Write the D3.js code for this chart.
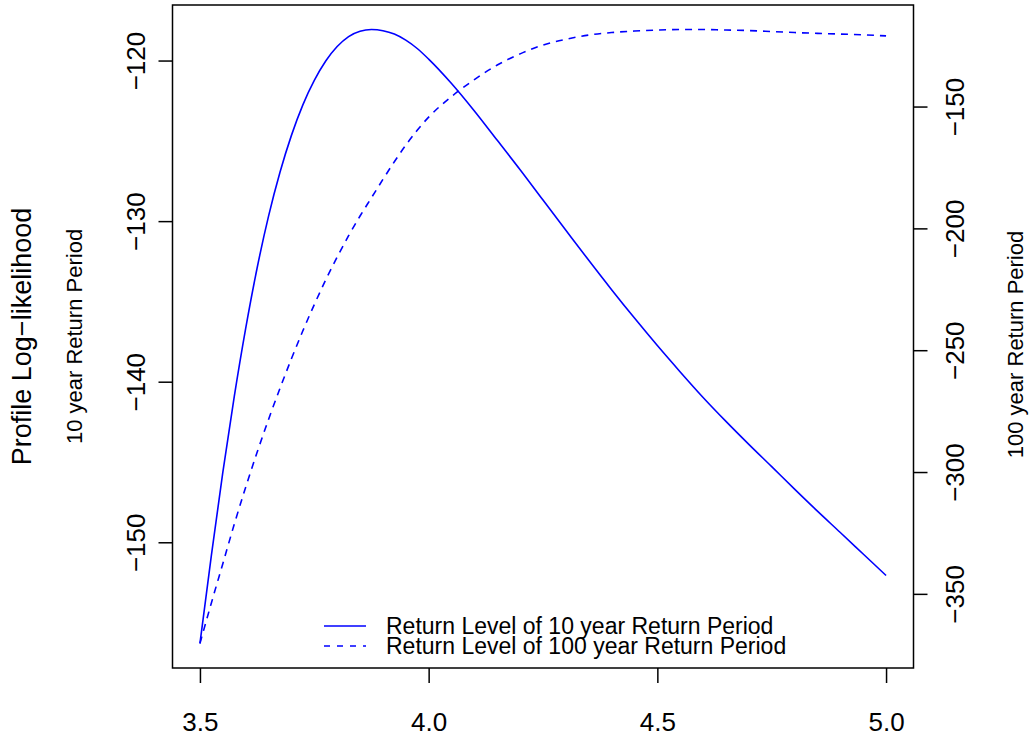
<!DOCTYPE html>
<html>
<head>
<meta charset="utf-8">
<script src="https://cdn.jsdelivr.net/npm/d3@7"></script>
<style>
  body { margin: 0; background: #fff; }
  text { font-family: "Liberation Sans", Arial, Helvetica, sans-serif; fill: #000; }
</style>
</head>
<body>
<svg id="chart" width="1029" height="738"></svg>
<script>
// Shape parameter grid of the profile
const xVals = [3.5, 3.525, 3.55, 3.575, 3.6, 3.625, 3.65, 3.675, 3.7, 3.725, 3.75,
               3.775, 3.8, 3.825, 3.85, 3.875, 3.9, 3.925, 3.95, 3.975, 4.0,
               4.05, 4.1, 4.15, 4.2, 4.25, 4.3, 4.35, 4.4, 4.45, 4.5,
               4.55, 4.6, 4.65, 4.7, 4.75, 4.8, 4.85, 4.9, 4.95, 5.0];

// Profile log-likelihood, 10 year return level (left axis)
const rl10 = [-156.30, -150.81, -145.65, -140.93, -136.68, -132.92, -129.69, -126.96, -124.66, -122.76, -121.24,
              -120.03, -119.13, -118.51, -118.17, -118.07, -118.14, -118.35, -118.73, -119.25, -119.91,
              -121.43, -123.14, -124.97, -126.80, -128.69, -130.57, -132.44, -134.27, -136.04, -137.75,
              -139.39, -140.98, -142.47, -143.90, -145.29, -146.69, -148.06, -149.39, -150.73, -152.07];

// Profile log-likelihood, 100 year return level (right axis)
const rl100 = [-370.35, -353.73, -337.61, -321.44, -306.22, -291.90, -278.40, -265.63, -253.53, -242.04, -231.25,
               -221.15, -211.76, -203.02, -194.93, -187.42, -179.91, -172.65, -165.84, -159.73, -154.35,
               -145.90, -138.92, -132.97, -128.38, -124.76, -122.38, -120.66, -119.63, -119.02, -118.61,
               -118.40, -118.40, -118.61, -118.81, -119.22, -119.63, -119.96, -120.25, -120.58, -120.99];

const xTicks = [3.5, 4.0, 4.5, 5.0];
const leftTicks = [-150, -140, -130, -120];
const rightTicks = [-350, -300, -250, -200, -150];

const legendLabels = ["Return Level of 10 year Return Period",
                      "Return Level of 100 year Return Period"];

const box = { left: 172.5, right: 913.5, top: 5, bottom: 668 };
const blue = "#0000ff";
const minus = s => String(s).replace("-", "\u2212");

// extent widened by 4% on each side
function padded(vals) {
  const [a, b] = d3.extent(vals);
  const p = (b - a) * 0.04;
  return [a - p, b + p];
}

const x = d3.scaleLinear().domain(padded(xVals)).range([box.left, box.right]);
const yL = d3.scaleLinear().domain(padded(rl10)).range([box.bottom, box.top]);
const yR = d3.scaleLinear().domain(padded(rl100)).range([box.bottom, box.top]);

const svg = d3.select("#chart");

// curves
const line10 = d3.line().x((d, i) => x(xVals[i])).y(d => yL(d)).curve(d3.curveMonotoneX);
const line100 = d3.line().x((d, i) => x(xVals[i])).y(d => yR(d)).curve(d3.curveMonotoneX);

svg.append("path").datum(rl10).attr("d", line10)
  .attr("fill", "none").attr("stroke", blue).attr("stroke-width", 1.6);
svg.append("path").datum(rl100).attr("d", line100)
  .attr("fill", "none").attr("stroke", blue).attr("stroke-width", 1.6)
  .attr("stroke-dasharray", "7,6");

// bottom axis
const gx = svg.append("g").attr("transform", `translate(0,${box.bottom})`)
  .call(d3.axisBottom(x).tickValues(xTicks).tickSize(15).tickFormat(d3.format(".1f")));
gx.select(".domain").remove();
gx.selectAll(".tick line").attr("stroke", "#000").attr("stroke-width", 1.5);
gx.selectAll(".tick text").attr("y", 63).attr("dy", 0)
  .style("font-size", "26px").attr("fill", "#000");

// left axis
const gl = svg.append("g").attr("transform", `translate(${box.left},0)`)
  .call(d3.axisLeft(yL).tickValues(leftTicks).tickSize(14).tickFormat(minus));
gl.select(".domain").remove();
gl.selectAll(".tick line").attr("stroke", "#000").attr("stroke-width", 1.5);
gl.selectAll(".tick text").attr("x", 0).attr("dy", "0.35em")
  .attr("transform", "translate(-37,0) rotate(-90)")
  .attr("text-anchor", "middle").style("font-size", "26px").attr("fill", "#000");

// right axis
const gr = svg.append("g").attr("transform", `translate(${box.right},0)`)
  .call(d3.axisRight(yR).tickValues(rightTicks).tickSize(14).tickFormat(minus));
gr.select(".domain").remove();
gr.selectAll(".tick line").attr("stroke", "#000").attr("stroke-width", 1.5);
gr.selectAll(".tick text").attr("x", 0).attr("dy", "0.35em")
  .attr("transform", "translate(41,0) rotate(-90)")
  .attr("text-anchor", "middle").style("font-size", "26px").attr("fill", "#000");

// plot frame
svg.append("rect")
  .attr("x", box.left).attr("y", box.top)
  .attr("width", box.right - box.left).attr("height", box.bottom - box.top)
  .attr("fill", "none").attr("stroke", "#000").attr("stroke-width", 1.5);

// axis titles
const midY = (box.top + box.bottom) / 2;
function vLabel(cx, cy, txt, size) {
  svg.append("text")
    .attr("transform", `translate(${cx},${cy}) rotate(-90)`)
    .attr("text-anchor", "middle").attr("dy", "0.35em")
    .style("font-size", size + "px").text(txt);
}
vLabel(22, midY, "Profile Log\u2212likelihood", 27);
vLabel(74, midY, "10 year Return Period", 22);
vLabel(1015, midY + 8, "100 year Return Period", 22);

// legend
const legend = svg.append("g");
legendLabels.forEach((lab, i) => {
  const cy = 626 + i * 20;
  legend.append("line")
    .attr("x1", 324).attr("x2", 366).attr("y1", cy).attr("y2", cy)
    .attr("stroke", blue).attr("stroke-width", 1.6)
    .attr("stroke-dasharray", i === 1 ? "6,7" : null);
  legend.append("text")
    .attr("x", 386).attr("y", cy).attr("dy", "0.36em")
    .style("font-size", "23px").text(lab);
});
</script>
</body>
</html>
